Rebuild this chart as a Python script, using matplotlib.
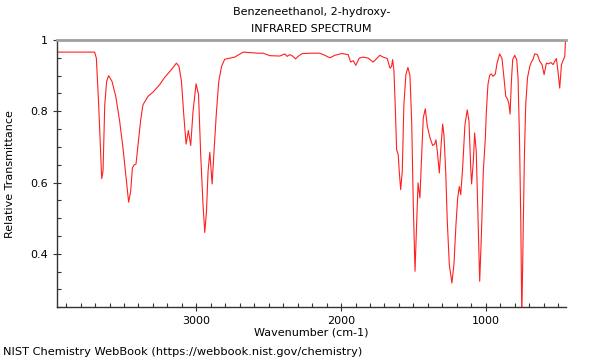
"""
IR spectrum of Benzeneethanol, 2-hydroxy- (NIST WebBook style).
Values read off the reference picture.
"""
import matplotlib
matplotlib.use("Agg")
import matplotlib.pyplot as plt
from matplotlib.ticker import MultipleLocator

# ------------------------------------------------------------------------------
# Data (wavenumber in cm-1, relative transmittance)
# ------------------------------------------------------------------------------
wavenumber = [
    3963, 3703, 3691, 3675, 3654, 3645, 3633, 3620, 3606, 3583, 3557, 3530,
    3507, 3490, 3468, 3454, 3442, 3431, 3417, 3403, 3385, 3369, 3334, 3299,
    3253, 3219, 3172, 3138, 3120, 3103, 3087, 3071, 3055, 3039, 3023, 3002,
    2985, 2970, 2954, 2942, 2930, 2919, 2907, 2891, 2878, 2861, 2845, 2826,
    2804, 2769, 2735, 2677, 2642, 2573, 2539, 2492, 2423, 2389, 2373, 2354,
    2335, 2315, 2297, 2269, 2204, 2147, 2112, 2077, 2043, 1996, 1951, 1934,
    1916, 1898, 1875, 1847, 1812, 1778, 1754, 1732, 1709, 1681, 1662, 1651,
    1644, 1635, 1626, 1616, 1605, 1598, 1588, 1577, 1566, 1552, 1538, 1524,
    1512, 1501, 1489, 1477, 1468, 1455, 1443, 1432, 1418, 1404, 1385, 1367,
    1353, 1344, 1335, 1321, 1310, 1298, 1289, 1277, 1266, 1252, 1234, 1220,
    1206, 1194, 1183, 1173, 1160, 1144, 1128, 1116, 1104, 1098, 1086, 1077,
    1066, 1056, 1042, 1031, 1017, 1003, 996, 985, 973, 962, 950, 934,
    922, 904, 888, 874, 862, 850, 841, 832, 823, 814, 800, 786,
    777, 767, 758, 751, 742, 733, 724, 712, 696, 685, 674, 662,
    643, 627, 611, 597, 581, 565, 551, 535, 524, 512, 501, 489,
    477, 463, 454, 449,
]
transmittance = [
    0.966, 0.966, 0.949, 0.818, 0.611, 0.632, 0.818, 0.884, 0.900, 0.884, 0.842, 0.772,
    0.697, 0.632, 0.545, 0.575, 0.641, 0.649, 0.652, 0.706, 0.775, 0.818, 0.842, 0.854,
    0.875, 0.895, 0.917, 0.935, 0.926, 0.884, 0.790, 0.708, 0.746, 0.704, 0.800, 0.877,
    0.847, 0.678, 0.538, 0.460, 0.519, 0.632, 0.685, 0.596, 0.688, 0.800, 0.884, 0.926,
    0.946, 0.949, 0.952, 0.966, 0.965, 0.963, 0.963, 0.956, 0.955, 0.961, 0.954, 0.959,
    0.955, 0.947, 0.954, 0.962, 0.963, 0.963, 0.957, 0.950, 0.957, 0.962, 0.959, 0.938,
    0.942, 0.929, 0.949, 0.952, 0.949, 0.938, 0.948, 0.957, 0.952, 0.948, 0.921, 0.926,
    0.945, 0.917, 0.818, 0.692, 0.678, 0.632, 0.580, 0.632, 0.818, 0.903, 0.923, 0.900,
    0.772, 0.538, 0.351, 0.491, 0.599, 0.557, 0.678, 0.781, 0.807, 0.758, 0.725, 0.704,
    0.708, 0.720, 0.688, 0.627, 0.697, 0.764, 0.734, 0.632, 0.491, 0.370, 0.318, 0.370,
    0.482, 0.557, 0.589, 0.566, 0.641, 0.762, 0.804, 0.772, 0.641, 0.596, 0.660, 0.739,
    0.688, 0.538, 0.323, 0.444, 0.632, 0.725, 0.800, 0.875, 0.901, 0.905, 0.898, 0.905,
    0.935, 0.961, 0.948, 0.893, 0.842, 0.834, 0.823, 0.792, 0.884, 0.945, 0.957, 0.945,
    0.893, 0.725, 0.491, 0.220, 0.444, 0.678, 0.818, 0.893, 0.926, 0.938, 0.945, 0.961,
    0.959, 0.940, 0.931, 0.903, 0.935, 0.933, 0.937, 0.931, 0.940, 0.948, 0.912, 0.865,
    0.931, 0.945, 0.954, 1.000,
]

TITLE = "Benzeneethanol, 2-hydroxy-"
SUBTITLE = "INFRARED SPECTRUM"
FOOTER = "NIST Chemistry WebBook (https://webbook.nist.gov/chemistry)"

FS = 8


def main() -> None:
    fig = plt.figure(figsize=(6, 3.6), dpi=100)
    ax = fig.add_axes([0.095, 0.1464, 0.848, 0.7425])

    ax.plot(wavenumber, transmittance, color="#ff2020", linewidth=0.8)

    ax.set_xlim(3963, 447)
    ax.set_ylim(0.25, 1.0)

    ax.xaxis.set_major_locator(MultipleLocator(1000))
    ax.xaxis.set_minor_locator(MultipleLocator(100))
    ax.yaxis.set_major_locator(MultipleLocator(0.2))
    ax.yaxis.set_minor_locator(MultipleLocator(0.05))
    ax.yaxis.set_major_formatter(plt.FuncFormatter(lambda v, _: f"{v:g}"))

    ax.tick_params(which="major", direction="inout", length=6, width=0.8,
                   labelsize=FS, color="#333333")
    ax.tick_params(which="minor", direction="in", length=3, width=0.8,
                   color="#333333")

    # frame: gray top, dark left/bottom, no right
    ax.spines["top"].set_color("#a0a0a0")
    ax.spines["top"].set_linewidth(2)
    ax.spines["right"].set_visible(False)
    for s in ("left", "bottom"):
        ax.spines[s].set_color("#333333")
        ax.spines[s].set_linewidth(1)

    ax.set_xlabel("Wavenumber (cm-1)", fontsize=FS, labelpad=0.5)
    ax.set_ylabel("Relative Transmittance", fontsize=FS, labelpad=11)

    fig.text(0.519, 1 - 12 / 360, TITLE, ha="center", va="center", fontsize=FS)
    fig.text(0.519, 1 - 29 / 360, SUBTITLE, ha="center", va="center", fontsize=FS)
    fig.text(3 / 600, 1 - 352 / 360, FOOTER, ha="left", va="center", fontsize=8.2)

    fig.savefig("out.png", dpi=100)
    plt.close(fig)


if __name__ == "__main__":
    main()
